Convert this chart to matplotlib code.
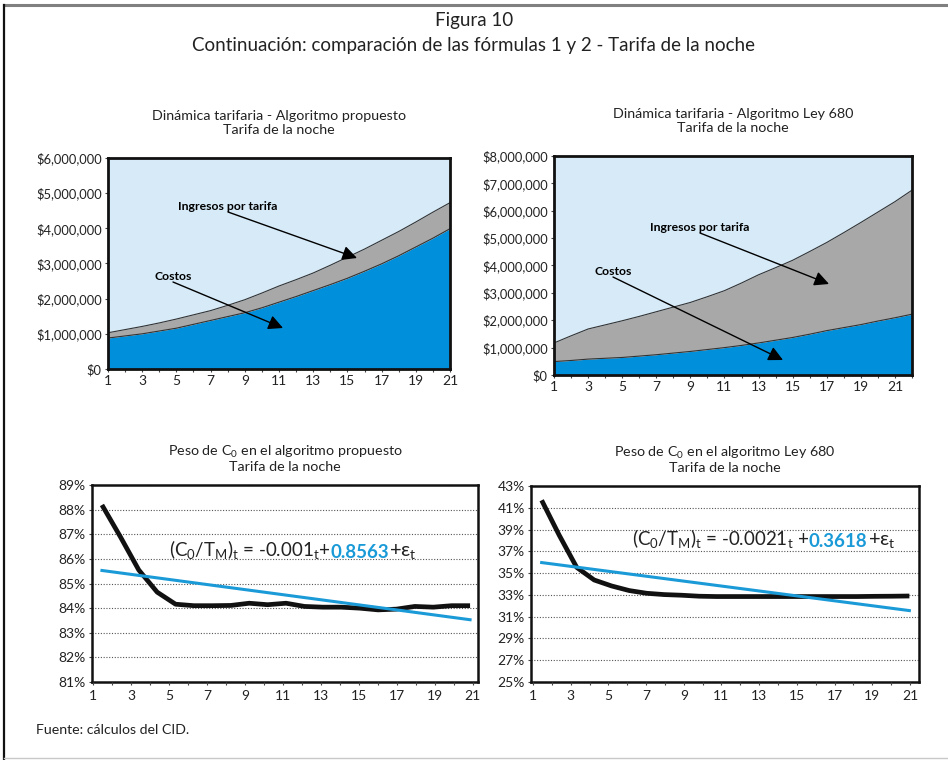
import numpy as np
import matplotlib.pyplot as plt
from matplotlib.lines import Line2D
from matplotlib.ticker import FuncFormatter, MultipleLocator

plt.rcParams['font.family'] = ['Lato', 'DejaVu Sans']
plt.rcParams['mathtext.default'] = 'regular'

# --- data -------------------------------------------------------------
t_prop = np.arange(1, 22)
costos_prop = [0.88, 0.94, 1.00, 1.08, 1.16, 1.27, 1.38, 1.49, 1.60, 1.74, 1.90,
               2.06, 2.23, 2.40, 2.58, 2.78, 2.99, 3.22, 3.47, 3.72, 3.99]
ingresos_prop = [1.03, 1.12, 1.21, 1.31, 1.42, 1.54, 1.66, 1.81, 1.97, 2.16, 2.36,
                 2.54, 2.73, 2.95, 3.18, 3.41, 3.66, 3.91, 4.18, 4.46, 4.73]

t_ley = np.arange(1, 23)
costos_ley = [0.49, 0.53, 0.58, 0.61, 0.64, 0.69, 0.74, 0.80, 0.86, 0.93, 1.00,
              1.08, 1.17, 1.27, 1.37, 1.49, 1.62, 1.73, 1.84, 1.97, 2.09, 2.22]
ingresos_ley = [1.17, 1.43, 1.68, 1.83, 1.98, 2.14, 2.31, 2.48, 2.65, 2.86, 3.08,
                3.36, 3.66, 3.92, 4.19, 4.51, 4.84, 5.20, 5.57, 5.95, 6.33, 6.75]

peso_prop = [88.19, 86.90, 85.55, 84.65, 84.16, 84.10, 84.10, 84.11, 84.20, 84.14, 84.20,
             84.07, 84.04, 84.04, 84.00, 83.93, 83.96, 84.07, 84.04, 84.10, 84.10]
peso_ley = [41.69, 38.49, 35.53, 34.37, 33.82, 33.40, 33.15, 33.03, 32.97, 32.88, 32.85,
            32.85, 32.85, 32.85, 32.85, 32.85, 32.85, 32.85, 32.85, 32.87, 32.88, 32.90]

# trend equations written on the charts: (C0/TM)t = b*t + a
slope_prop, icpt_prop = -0.001, 0.8563
slope_ley, icpt_ley = -0.0021, 0.3618
trend_prop = (icpt_prop + slope_prop * t_prop) * 100
trend_ley = (icpt_ley + slope_ley * t_ley) * 100

x_labels = [str(i) for i in range(1, 22, 2)]

LIGHT = '#d6eaf8'
GRAY = '#a8a8a8'
BLUE = '#0090db'
TREND = '#1b9ad8'
TXT = '#222222'

fig = plt.figure(figsize=(9.48, 7.6), dpi=100)

# page frame
fig.add_artist(Line2D([0.004, 1.0], [0.9935, 0.9935], color='#808080', lw=2.2))
fig.add_artist(Line2D([0.0045, 0.0045], [0.0, 0.9935], color='#111111', lw=1.6))
fig.add_artist(Line2D([0.004, 1.0], [0.002, 0.002], color='#c8c8c8', lw=1.0))

fig.text(0.5, 0.973, 'Figura 10', ha='center', va='center', fontsize=13.5, color=TXT)
fig.text(0.5, 0.940, 'Continuación: comparación de las fórmulas 1 y 2 - Tarifa de la noche',
         ha='center', va='center', fontsize=13.5, color=TXT)
fig.text(0.038, 0.039, 'Fuente: cálculos del CID.', ha='left', va='center', fontsize=10.2,
         color=TXT)

money = FuncFormatter(lambda v, p: '${:,.0f}'.format(v * 1e6))
pct = FuncFormatter(lambda v, p: '{:.0f}%'.format(v))


def frame(ax, lw=2.0):
    for s in ax.spines.values():
        s.set_linewidth(lw)
        s.set_color('#111111')


def panel_title(ax, title, pad, spacing=1.25):
    ax.set_title(title, fontsize=10.3, color=TXT, y=1.0, pad=pad, linespacing=spacing)


def area_panel(rect, t, costos, ingresos, ymax, title, notes):
    ax = fig.add_axes(rect)
    ax.set_facecolor(LIGHT)
    ax.fill_between(t, 0, costos, color=BLUE, lw=0)
    ax.fill_between(t, costos, ingresos, color=GRAY, lw=0)
    ax.plot(t, costos, color='#333333', lw=0.8)
    ax.plot(t, ingresos, color='#333333', lw=0.8)
    ax.set_xlim(t[0], t[-1])
    ax.set_ylim(0, ymax)
    ax.yaxis.set_major_locator(MultipleLocator(1))
    ax.yaxis.set_major_formatter(money)
    ax.set_xticks(range(1, 22, 2))
    ax.set_xticklabels(x_labels)
    ax.xaxis.set_minor_locator(MultipleLocator(1))
    ax.tick_params(axis='both', which='both', length=2.5, width=0.8, labelsize=9.3,
                   colors='#444444', labelcolor=TXT, pad=2)
    ax.tick_params(axis='x', labelsize=10)
    frame(ax)
    panel_title(ax, title, 17)
    for label, txy, hxy in notes:
        ax.annotate('', xy=hxy, xytext=txy, xycoords='figure pixels',
                    arrowprops=dict(arrowstyle='-|>', mutation_scale=22, lw=1.0,
                                    color='black', shrinkA=0, shrinkB=0))
        ax.annotate(label, xy=txy, xycoords='figure pixels', ha='center', va='bottom',
                    fontsize=8.8, fontweight='bold', color='black')
    return ax


def peso_panel(rect, t, peso, trend, lim, yticks, xlim, label_lim, title, eq):
    ax = fig.add_axes(rect)
    ax.set_facecolor('white')
    ax.plot(t, peso, color='#111111', lw=3.4, solid_capstyle='butt',
            solid_joinstyle='round', zorder=3)
    ax.plot(t, trend, color=TREND, lw=2.2, zorder=4)
    ax.set_xlim(*xlim)
    ax.set_ylim(*lim)
    ax.set_yticks(yticks)
    ax.yaxis.set_major_formatter(pct)
    ax.grid(axis='y', color='#555555', ls=(0, (1, 1.5)), lw=0.8)
    ax.set_xticks([])
    ax.tick_params(axis='y', length=2.5, width=0.8, labelsize=10, colors='#444444',
                   labelcolor=TXT, pad=2)
    frame(ax, 1.8)

    # category axis labels sit on their own scale along the bottom
    axl = ax.twiny()
    axl.set_xlim(*label_lim)
    axl.xaxis.set_ticks_position('bottom')
    axl.xaxis.set_label_position('bottom')
    axl.set_xticks(range(1, 22, 2))
    axl.set_xticklabels(x_labels)
    axl.xaxis.set_minor_locator(MultipleLocator(1))
    axl.tick_params(axis='x', which='both', length=2.5, width=0.8, labelsize=10,
                    colors='#444444', labelcolor=TXT, pad=3)
    for s in axl.spines.values():
        s.set_visible(False)
    panel_title(axl, title, 10, spacing=1.1)

    (x0, y0), pre, num = eq
    t1 = ax.text(x0, y0, pre, transform=ax.transAxes, fontsize=13.5, color=TXT,
                 ha='left', va='baseline')
    t2 = ax.annotate(num, xy=(1, 0), xycoords=t1, va='bottom', ha='left',
                     fontsize=13.5, fontweight='bold', color=TREND)
    ax.annotate(r'+$\varepsilon_t$', xy=(1, 0), xycoords=t2, va='bottom', ha='left',
                fontsize=14.5, color=TXT)
    return ax


area_panel([0.1139, 0.5145, 0.3608, 0.2776], t_prop, costos_prop, ingresos_prop, 6,
           'Dinámica tarifaria - Algoritmo propuesto\nTarifa de la noche',
           [('Ingresos por tarifa', (228, 548), (357, 502)),
            ('Costos', (173, 478), (283, 432))])

area_panel([0.5844, 0.5066, 0.3776, 0.2882], t_ley, costos_ley, ingresos_ley, 8,
           'Dinámica tarifaria - Algoritmo Ley 680\nTarifa de la noche',
           [('Ingresos por tarifa', (700, 527), (829, 476)),
            ('Costos', (613, 483), (783, 400))])

peso_panel([0.0970, 0.1026, 0.4072, 0.2592], t_prop, peso_prop, trend_prop,
           (81, 89), range(81, 90), (0.457, 21.43), (0.947, 21.27),
           'Peso de C$_0$ en el algoritmo propuesto\nTarifa de la noche',
           ((0.20, 0.64), r'$(C_0/T_M)_t$ = -0.001$_t$+', '0.8563'))

peso_panel([0.5601, 0.1026, 0.4093, 0.2579], t_ley, peso_ley, trend_ley,
           (25, 43), range(25, 44, 2), (0.39, 22.55), (0.894, 21.48),
           'Peso de C$_0$ en el algoritmo Ley 680\nTarifa de la noche',
           ((0.26, 0.70), r'$(C_0/T_M)_t$ = -0.0021$_t$ +', '0.3618'))

fig.savefig('out.png', dpi=100)
